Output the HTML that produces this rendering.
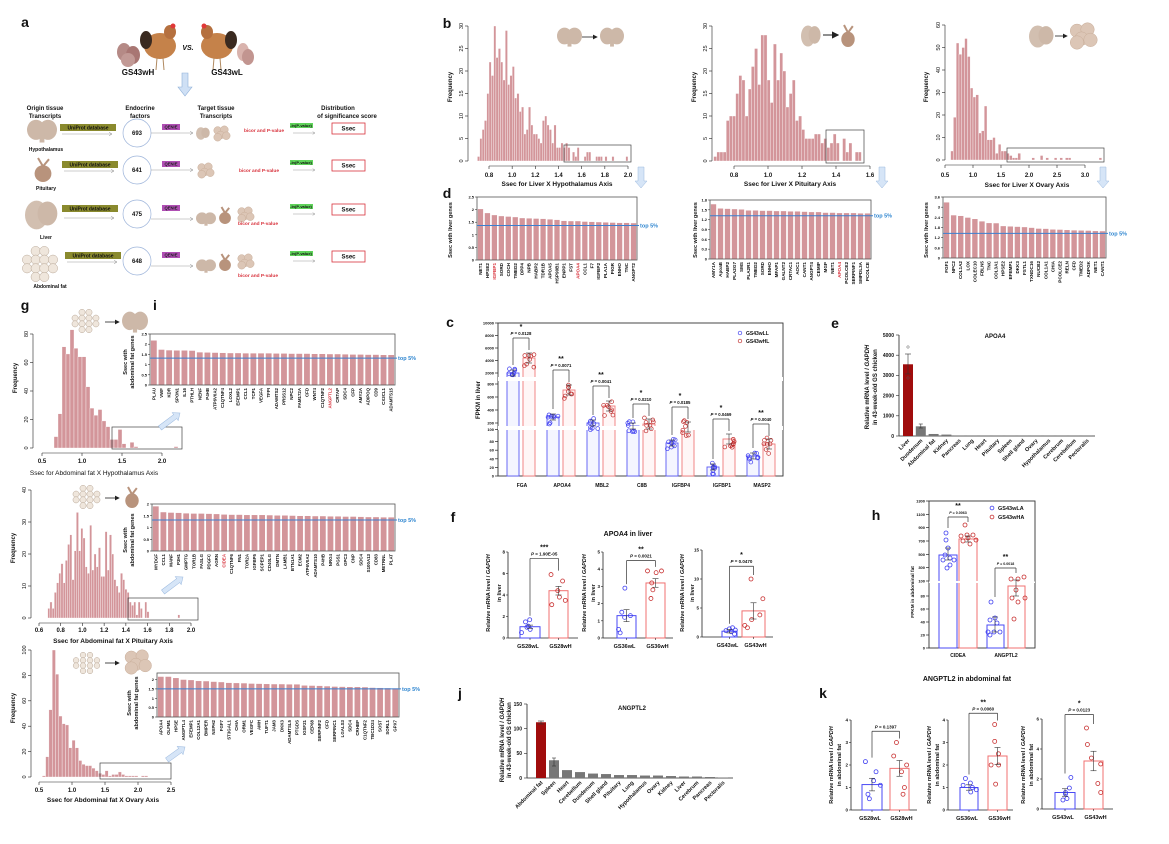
<!DOCTYPE html>
<html><head><meta charset="utf-8">
<style>
html,body{margin:0;padding:0;background:#fff;}
svg{display:block;font-family:"Liberation Sans",Arial,sans-serif;}
</style></head>
<body>
<svg id="s" width="1169" height="844" viewBox="0 0 1169 844" xmlns="http://www.w3.org/2000/svg">
<defs>
<marker id="ah" markerWidth="6" markerHeight="6" refX="5" refY="3" orient="auto"><path d="M0,0 L5,3 L0,6" fill="none" stroke="#888" stroke-width="0.8"/></marker>
<marker id="ahk" markerWidth="6" markerHeight="6" refX="5" refY="3" orient="auto"><path d="M0,0 L6,3 L0,6 z" fill="#222"/></marker>
</defs>
<g id="g"></g>
</svg>
<script>
var G=document.getElementById('g'),out='';
function T(x,y,t,o){o=o||{};var a='';if(o.rot!==undefined)a+=' transform="rotate('+o.rot+' '+x+' '+y+')"';
out+='<text x="'+x+'" y="'+y+'" font-size="'+(o.s||5)+'" fill="'+(o.c||'#111')+'" text-anchor="'+(o.a||'middle')+'"'+(o.b?' font-weight="bold"':'')+(o.i?' font-style="italic"':'')+a+'>'+t+'</text>';}
function L(x1,y1,x2,y2,c,w,extra){out+='<line x1="'+x1+'" y1="'+y1+'" x2="'+x2+'" y2="'+y2+'" stroke="'+(c||'#222')+'" stroke-width="'+(w||0.7)+'" '+(extra||'')+'/>';}
function R(x,y,w,h,f,s,sw){out+='<rect x="'+x+'" y="'+y+'" width="'+w+'" height="'+h+'" fill="'+(f||'none')+'" stroke="'+(s||'none')+'" stroke-width="'+(sw||0.6)+'"/>';}
function C(x,y,r,f,s,sw){out+='<circle cx="'+x+'" cy="'+y+'" r="'+r+'" fill="'+(f||'none')+'" stroke="'+(s||'none')+'" stroke-width="'+(sw||0.6)+'"/>';}
function E(x,y,rx,ry,f){out+='<ellipse cx="'+x+'" cy="'+y+'" rx="'+rx+'" ry="'+ry+'" fill="'+f+'"/>';}
var PINK='#d3959a',BL='#3b7fd0';
var seed=7;function rnd(){seed=(seed*9301+49297)%233280;return seed/233280;}

function brain(x,y,w,h){E(x+w*0.3,y+h*0.45,w*0.3,h*0.42,'#cdb8a8');E(x+w*0.7,y+h*0.45,w*0.3,h*0.42,'#cdb8a8');R(x+w*0.42,y+h*0.6,w*0.16,h*0.38,'#cdb8a8');}
function liver(x,y,w,h){E(x+w*0.35,y+h*0.5,w*0.35,h*0.48,'#d2bfb0');E(x+w*0.68,y+h*0.45,w*0.3,h*0.4,'#cdb8a8');}
function pit(x,y,w,h){E(x+w*0.5,y+h*0.65,w*0.42,h*0.35,'#b8937c');L(x+w*0.5,y+h*0.35,x+w*0.25,y,'#b8937c',2);L(x+w*0.5,y+h*0.35,x+w*0.8,y+h*0.05,'#b8937c',2);}
function ovary(x,y,w,h){var p=[[.3,.3],[.65,.25],[.45,.6],[.75,.65],[.3,.75]];p.forEach(function(q){C(x+w*q[0],y+h*q[1],Math.min(w,h)*0.26,'#dcc6b6','#c9ae9a',0.5);});}
function fat(x,y,w,h){for(var r=0;r<4;r++)for(var c=0;c<4;c++){if((r==0||r==3)&&(c==0||c==3))continue;C(x+w*(0.14+c*0.24),y+h*(0.14+r*0.24),Math.min(w,h)*0.13,'#efe6dc','#b9a898',0.5);}}
function chicken(x,y,flip){var s=flip?-1:1;E(x,y+8,16,13,'#c5824a');E(x+s*10,y-6,6,7,'#b5703f');C(x+s*13,y-12,2.5,'#e03838');E(x-s*14,y+2,6,9,'#3a2a20');L(x-3,y+20,x-4,y+32,'#b08a60',1);L(x+3,y+20,x+4,y+32,'#b08a60',1);}

T(25,27,'a',{s:14,b:1,a:'middle'});
E(124,52,7,9,'#b58a86');E(133,55,7,9,'#a87673');E(128,60,7,7,'#c29a96');
chicken(160,38,false);chicken(217,38,true);
T(188,50,'VS.',{s:7,b:1,i:1});
E(243,52,6,9,'#d9b3ad');E(248,57,6,8,'#c29590');
T(138,75,'GS43wH',{s:8,b:1});T(227,75,'GS43wL',{s:8,b:1});
out+='<path d="M182,73 h6 v14 h4 l-7,9 l-7,-9 h4z" fill="#cfe0f5" stroke="#8fb0d8" stroke-width="0.6"/>';
T(45,110,'Origin tissue',{s:6,b:1});T(45,118,'Transcripts',{s:6,b:1});
T(140,110,'Endocrine',{s:6,b:1});T(140,118,'factors',{s:6,b:1});
T(216,110,'Target tissue',{s:6,b:1});T(216,118,'Transcripts',{s:6,b:1});
T(338,110,'Distribution',{s:6,b:1});T(347,118,'of significance score',{s:6,b:1});
var rows=[{y:133,n:'693',lab:'Hypothalamus',ly:151,ub:60,bic:[264,132],t:['l','f']},
{y:170,n:'641',lab:'Pituitary',ly:190,ub:62,bic:[259,172],t:['f']},
{y:214,n:'475',lab:'Liver',ly:239,ub:62,bic:[258,225],t:['b','p','f']},
{y:261,n:'648',lab:'Abdominal fat',ly:288,ub:65,bic:[258,277],t:['b','p','f']}];
brain(27,119,30,24);pit(33,158,20,24);liver(25,200,33,30);fat(22,246,36,36);
rows.forEach(function(r,i){
 T(i==3?50:46,r.ly,r.lab,{s:5,b:1});
 R(r.ub,r.y-9,56,7,'#8a8a2e');T(r.ub+28,r.y-3.7,'UniProt database',{s:5,b:1,c:'#111'});
 L(r.ub+2,r.y+(i==2?4:1),r.ub+52,r.y+(i==2?4:1),'#999',0.6,'marker-end="url(#ah)"');
 C(137,r.y,14,'#fff','#9db4da',0.7);T(137,r.y+2,r.n,{s:6,b:1});
 R(162,r.y-9,18,6,'#b04fb4');T(171,r.y-4.5,'QENIE',{s:4.2,b:1,c:'#222'});
 L(151,r.y+(i>=2?5:0),193,r.y+(i>=2?5:0),'#999',0.6,'marker-end="url(#ah)"');
 var xx=196;r.t.forEach(function(k){if(k=='l'){liver(xx,r.y-6,14,13);xx+=16;}if(k=='b'){brain(xx,r.y-2,20,14);xx+=22;}if(k=='p'){pit(xx,r.y-7,14,17);xx+=18;}if(k=='f'){ovary(xx,r.y-7,19,15);xx+=21;}});
 T(r.bic[0],r.bic[1],'bicor  and  P-value',{s:4.8,b:1,c:'#d8323c'});
 R(290,r.y-10,23,5,'#5fd35a');T(301,r.y-6.2,'-ln(P-value)',{s:4,b:1});
 L(293,r.y,315,r.y,'#999',0.5,'marker-end="url(#ah)"');
 R(332,r.y-10,33,11,'#fff','#d8323c',0.8);T(348.5,r.y-2.3,'Ssec',{s:6,b:1});
});

function hist(o){
 var X=function(v){return o.p0+(v-o.v0)/(o.v1-o.v0)*(o.p1-o.p0);};
 var Y=function(v){return o.y0-v/o.ymax*(o.y0-o.yt);};
 o.data.forEach(function(d,i){if(!d)return;var v=o.start+i*o.step,x=X(v),w=X(v+o.step)-x;R(x,Y(d),w,o.y0-Y(d),PINK,'#fff',0.35);});
 L(o.ax,o.y0,o.ax,o.yt,'#222',0.6);
 o.yt_.forEach(function(t){var y=Y(t);L(o.ax-3,y,o.ax,y,'#222',0.6);T(o.ax-5,y,t,{s:5.5,rot:-90});});
 var xa=o.y0+5;L(X(o.xt[0]),xa,X(o.xt[o.xt.length-1]),xa,'#222',0.6);
 o.xt.forEach(function(t){L(X(t),xa,X(t),xa+3,'#222',0.6);T(X(t),o.ty,t.toFixed(1),{s:6,b:1});});
 T(o.lx,o.ly,o.xl,{s:6.5,b:o.lb!==0});
 T(o.fx,o.fy,'Frequency',{s:6,b:1,rot:-90});
 if(o.box)R(o.box[0],o.box[1],o.box[2]-o.box[0],o.box[3]-o.box[1],'none','#444',0.7);
}
function bars(o){
 var n=o.vals.length,bw=(o.x2-o.x1)/n,Y=function(v){return o.y2-v/o.ymax*(o.y2-o.y1);};
 o.vals.forEach(function(v,i){R(o.x1+i*bw+bw*0.12,Y(v),bw*0.76,o.y2-Y(v),PINK);
  T(o.x1+i*bw+bw*0.5+1.5,o.ly,o.labs[i],{s:o.fs||4.6,a:'end',rot:-90,b:1,c:(o.red.indexOf(i)>=0?'#d8323c':'#111')});});
 R(o.x1,o.y1,o.x2-o.x1,o.y2-o.y1,'none','#555',0.8);
 o.yt.forEach(function(t){var y=Y(t);L(o.x1-2,y,o.x1,y,'#222',0.5);T(o.x1-3,y+1.5,t,{s:4,a:'end',b:1});});
 var ly=Y(o.line);L(o.x1,ly,o.x2+2,ly,BL,1);
 T(o.x2+3,ly+2,'top 5%',{s:5.5,b:1,c:'#2f86d0',a:'start'});
 o.ylab.forEach(function(t,k){T(o.ylx[k],o.yly,t,{s:5.5,b:1,rot:-90});});
}
function downArrow(x,y1,y2){out+='<path d="M'+(x-3)+','+y1+' h6 v'+(y2-y1-7)+' h3 l-6,7 l-6,-7 h3z" fill="#d6e5f7" stroke="#9ab8de" stroke-width="0.5"/>';}
function diagArrow(x1,y1,x2,y2){var a=Math.atan2(y2-y1,x2-x1)*180/Math.PI,l=Math.hypot(x2-x1,y2-y1);
 out+='<g transform="translate('+x1+' '+y1+') rotate('+a+')"><path d="M0,-2.5 H'+(l-6)+' V-5 L'+l+',0 L'+(l-6)+',5 V2.5 H0z" fill="#d6e5f7" stroke="#9ab8de" stroke-width="0.5"/></g>';}

T(447,28,'b',{s:14,b:1});
hist({p0:489,p1:628,v0:0.8,v1:2.0,y0:161,yt:26,ymax:30,ax:468,yt_:[0,5,10,15,20,25,30],xt:[0.8,1.0,1.2,1.4,1.6,1.8,2.0],ty:177,
data:[1,5,7,9,15,22,19,30,23,25,22,18,29,17,19,21,14,15,11,12,6,7,12,8,6,6,5,4,9,10,8,7,4,8,3,3,4,3,4,3,0,2,1,3,0,0,1,2,2,0,0,1,1,1,0,1,0,0,1,0,0,0,0,0,1],
start:0.70,step:0.02,xl:'Ssec for Liver X Hypothalamus Axis',lx:557,ly:186,fx:452,fy:87,box:[564,145,631,162]});
brain(557,27,25,20);L(582,37,597,37,'#222',0.8,'marker-end="url(#ahk)"');brain(600,27,24,20);
downArrow(641,167,188);
hist({p0:734,p1:870,v0:0.8,v1:1.6,y0:161,yt:26,ymax:30,ax:712,yt_:[0,5,10,15,20,25,30],xt:[0.8,1.0,1.2,1.4,1.6],ty:177,
data:[1,2,2,2,9,10,10,15,19,18,10,16,21,25,17,28,28,18,13,26,18,24,20,12,15,18,9,10,7,5,5,5,6,6,4,5,3,4,6,4,0,5,2,4,0,2,2],
start:0.68,step:0.0185,xl:'Ssec for Liver X Pituitary Axis',lx:790,ly:186,fx:696,fy:87,box:[826,130,864,163]});
liver(801,25,20,22);L(823,35,838,35,'#444',1.2,'marker-end="url(#ahk)"');pit(840,25,16,22);
downArrow(882,167,188);
hist({p0:945,p1:1085,v0:0.5,v1:3.0,y0:160,yt:25,ymax:60,ax:945,yt_:[0,10,20,30,40,50,60],xt:[0.5,1.0,1.5,2.0,2.5,3.0],ty:177,
data:[4,19,52,47,50,54,46,32,28,29,12,13,24,9,9,10,3,7,4,4,3,2,1,1,3,0,0,0,0,1,0,0,2,0,1,0,0,1,0,1,0,1,1,0,0,0,0,0,0,0,0,0,0,1],
start:0.6,step:0.05,xl:'Ssec for Liver X Ovary Axis',lx:1027,ly:187,fx:928,fy:87,box:[1007,148,1104,162]});
liver(1029,25,25,23);L(1055,36,1067,36,'#222',0.8,'marker-end="url(#ahk)"');ovary(1068,23,30,26);
downArrow(1103,167,188);

T(447,198,'d',{s:14,b:1});
bars({x1:477,x2:637,y1:197,y2:260,ymax:2.5,yt:[0,0.5,1,1.5,2,2.5],line:1.37,ly:263,red:[2,14],
vals:[2.02,1.86,1.78,1.74,1.72,1.7,1.66,1.65,1.64,1.63,1.61,1.59,1.55,1.54,1.54,1.52,1.51,1.5,1.49,1.48,1.47,1.47,1.46],
labs:['NET1','HPSE2','IGFBP1','SORD','COCH','TMED2','DPP4','NPB','HABP2','TDR1B','APOA5','HSP90B1','ENPP1','FST','APOA4','CCL1','F7','IGFBP2','PLA1A','PIGR','ENHO','TNC','ANGPT2'],
ylab:['Ssec with liver genes'],ylx:[452],yly:230});
bars({x1:710,x2:871,y1:200,y2:259,ymax:1.8,yt:[0,0.3,0.6,0.9,1.2,1.5,1.8],line:1.32,ly:262,red:[18],
vals:[1.67,1.54,1.53,1.52,1.51,1.48,1.48,1.47,1.47,1.46,1.46,1.45,1.45,1.44,1.43,1.43,1.41,1.41,1.40,1.40,1.40,1.39,1.39],
labs:['AMY1A','ApoaB','HABP2','PLA2G7','SMS','PLA2R1','TMED2','SORD','ENHO','MFAP1','GALNT2','CRTAC1','AOC1','CANT1','ANGPT4','CEMIP','MGP','NET1','APOA4','PCOLCE2','SERPINF1','SMPDL3A','PCOLCE'],
ylab:['Ssec with liver genes'],ylx:[697],yly:230});
bars({x1:943,x2:1106,y1:197,y2:258,ymax:3.6,yt:[0,0.6,1.2,1.8,2.4,3,3.6],line:1.45,ly:261,red:[],
vals:[3.28,2.52,2.48,2.38,2.3,2.16,2.06,2.05,1.88,1.86,1.84,1.82,1.78,1.73,1.72,1.68,1.67,1.65,1.63,1.62,1.61,1.59,1.58],
labs:['FGF1','NPC2','COL1A2','LOX','COLEC10','FBLN5','TNC','COL3A1','HPSE2','EFEMP1','DKK3','FSTL1','TXNDC16','NUCB2','COL1A1','CHIA','PCOLCE2','RELN','CFD','TMED2','ADPGK','NET1','CANT1'],
ylab:['Ssec with liver genes'],ylx:[928],yly:230});

T(25,310,'g',{s:14,b:1});T(155,310,'i',{s:14,b:1});
hist({p0:42,p1:162,v0:0.5,v1:2.0,y0:448,yt:334,ymax:80,ax:33,yt_:[0,20,40,60,80],xt:[0.5,1.0,1.5,2.0],ty:463,
data:[8,24,71,66,83,70,64,64,43,28,23,27,19,15,6,6,13,3,0,4,1,0,0,0,0,0,0,0,0,0,1],
start:0.65,step:0.05,xl:'Ssec for Abdominal fat X Hypothalamus Axis',lx:94,ly:475,lb:0,fx:17,fy:378,box:[112,427,182,449]});
fat(71,309,29,24);L(105,322,119,322,'#222',0.8,'marker-end="url(#ahk)"');brain(122,311,26,22);
diagArrow(160,428,180,413);
bars({x1:150,x2:395,y1:334,y2:385,ymax:2.5,yt:[0,0.5,1,1.5,2,2.5],line:1.32,ly:388,red:[23],fs:4.4,
vals:[2.18,1.73,1.7,1.69,1.69,1.68,1.6,1.59,1.58,1.57,1.56,1.56,1.55,1.55,1.55,1.55,1.54,1.54,1.53,1.53,1.53,1.52,1.52,1.51,1.51,1.5,1.49,1.49,1.48,1.48,1.47,1.47],
labs:['PLAU','VWF','KDR','SPON1','IL16','PTHLH','NENF','P4HB','ATP6V0A2','C1QTNF4','LOXL2','EFEMP1','CCL1','TCP1','VEGFA','TFPI','ADAMTS2','PRSS12','NPC2','FAM172A','CFD','WNT4','C1QTNF2','ANGPTL2','CRTAP','SDC4','CFP','AMY2A','ADIPOQ','CD9','CX3CL1','ADAMTS15'],
ylab:['Ssec with','abdominal fat genes'],ylx:[127,134],yly:362});
hist({p0:39,p1:191,v0:0.6,v1:2.0,y0:618,yt:490,ymax:40,ax:31,yt_:[0,10,20,30,40],xt:[0.6,0.8,1.0,1.2,1.4,1.6,1.8,2.0],ty:632,
data:[3,5,3,8,11,14,17,11,18,23,26,12,21,33,21,28,25,16,14,29,15,20,16,22,13,13,27,15,26,20,12,10,8,14,12,9,8,5,4,5,1,5,3,0,5,2,0,0,0,0,0,0,0,0,0,0,0,0,0,1],
start:0.68,step:0.0203,xl:'Ssec for Abdominal fat X Pituitary Axis',lx:113,ly:643,fx:15,fy:548,box:[128,598,198,620]});
fat(72,485,29,24);L(105,498,119,498,'#222',0.8,'marker-end="url(#ahk)"');pit(124,487,16,21);
diagArrow(163,592,183,577);
bars({x1:152,x2:395,y1:504,y2:551,ymax:2,yt:[0,0.5,1,1.5,2],line:1.32,ly:554,red:[9],fs:4.4,
vals:[1.9,1.65,1.63,1.62,1.6,1.59,1.59,1.58,1.57,1.55,1.54,1.54,1.53,1.53,1.53,1.52,1.51,1.51,1.5,1.49,1.49,1.48,1.48,1.47,1.47,1.46,1.46,1.45,1.44,1.44,1.43,1.43],
labs:['MYDGF','CCL1','MANF','P3H1','GMPTG','TOR1B','FASLG','PDGFC','AGRN','CIDEA','C1QTNF6','FN1','TOR2A','IGFBP5','SCPEP1','CD40LG','DMTN','LAMB1','BTN1A1','ECM2','ATP6V0A2','ADAMTS10','P4HB','NRG4','PGS1','GPC3','CNP','SDC4','S100A13','CD83','METRNL','PLAT'],
ylab:['Ssec with','abdominal fat genes'],ylx:[127,134],yly:540});
hist({p0:39,p1:171,v0:0.5,v1:2.5,y0:777,yt:650,ymax:100,ax:31,yt_:[0,20,40,60,80,100],xt:[0.5,1.0,1.5,2.0,2.5],ty:792,
data:[0,1,16,53,100,81,48,42,41,23,29,23,13,10,9,9,7,5,3,2,5,1,2,2,4,2,1,1,1,1,0,1,1],
start:0.5,step:0.05,xl:'Ssec for Abdominal fat X Ovary Axis',lx:103,ly:802,fx:15,fy:708,box:[100,763,171,779]});
fat(72,652,29,22);L(105,663,119,663,'#222',0.8,'marker-end="url(#ahk)"');ovary(122,650,31,24);
diagArrow(167,760,185,747);
bars({x1:157,x2:399,y1:673,y2:717,ymax:2.35,yt:[0,0.5,1,1.5,2],line:1.5,ly:720,red:[],fs:4.4,
vals:[2.15,2.15,2.08,1.99,1.97,1.92,1.91,1.88,1.86,1.82,1.81,1.8,1.78,1.77,1.76,1.75,1.75,1.74,1.74,1.68,1.67,1.66,1.64,1.62,1.61,1.6,1.6,1.59,1.56,1.55,1.54,1.53],
labs:['APOA4','OLFM1','HPSE','ANGPTL4','EFEMP1','COL12A1','BMPER','NXPH2','FGF7','ST3GAL1','CHIA','ORM1','VEGFC','AMH','TUFT1','JAM3','DKK3','ADAMTSL5','PTGDS','IGSF21','CEP68','SERPINF2','CFD','SERPINC1','LGALS3','SDC4','CRHBP','C1QTNF2','TBC1D24','SOST','SORL1','GPX7'],
ylab:['Ssec with','abdominal fat genes'],ylx:[131,138],yly:703});

var BLUE='#3d3df0';
function errbar(cx,yt,yb,w){L(cx,yt,cx,yb,'#333',0.6);L(cx-w,yt,cx+w,yt,'#333',0.6);L(cx-w,yb,cx+w,yb,'#333',0.6);}
function bracket(x1,x2,ytop,yl,yr,p,star,ps){L(x1,yl,x1,ytop,'#333',0.7);L(x1,ytop,x2,ytop,'#333',0.7);L(x2,ytop,x2,yr,'#333',0.7);
 if(p)T((x1+x2)/2,ytop-3,'<tspan font-style="italic">P</tspan> = '+p,{s:ps||4.5,b:1});if(star)T((x1+x2)/2,ytop-(p?9:3),star,{s:7,b:1});}

T(450,327,'c',{s:14,b:1});
function cY(v){if(v>=2000)return 373-(v-2000)/8000*50;if(v>=100&&v<1000)return 423-(v-200)/600*39;return 476-v/100*43;}
R(498,323,285,153,'none','#333',0.9);
[[10000,'10000'],[8000,'8000'],[6000,'6000'],[4000,'4000'],[2000,'2000']].forEach(function(t){var y=cY(t[0]);L(495,y,498,y);T(494,y+1.5,t[1],{s:4,a:'end',b:1});});
[[800,'800'],[600,'600'],[400,'400'],[200,'200']].forEach(function(t){var y=cY(t[0]);L(495,y,498,y);T(494,y+1.5,t[1],{s:4,a:'end',b:1});});
[[100,'100'],[80,'80'],[60,'60'],[40,'40'],[20,'20'],[0,'0']].forEach(function(t){var y=cY(t[0]);L(495,y,498,y);T(494,y+1.5,t[1],{s:4,a:'end',b:1});});
R(498,377,285,4,'#fff');R(498,426,285,4,'#fff');
T(480,400,'FPKM in liver',{s:6,b:1,rot:-90});
var cg=[['FGA',522,373,358],['APOA4',562,417,390],['MBL2',602,423,406],['C8B',642,426,424],['IGFBP4',681,443,427],['IGFBP1',722,467,439],['MASP2',762,456,444]];
var cst=[['*','0.0128'],['**','0.0071'],['**','0.0041'],['*','0.0210'],['*','0.0185'],['*','0.0469'],['**','0.0040']];
cg.forEach(function(g,i){var bx=g[1]-15,rx=g[1]+1;
 R(bx,g[2],12,476-g[2],'#f4f5ff','#5a5af5',0.9);R(rx,g[3],12,476-g[3],'#fff6f6','#f07a7a',0.9);
 R(bx-1,377,15,4,'#fff');R(bx-1,426,15,4,'#fff');R(rx-1,377,15,4,'#fff');R(rx-1,426,15,4,'#fff');
 for(var k=0;k<8;k++){C(bx+6+(rnd()-0.5)*11,g[2]+(rnd()-0.4)*12,1.9,'none',BLUE,0.7);C(rx+6+(rnd()-0.5)*11,g[3]+(rnd()-0.4)*16,1.9,'none','#c03030',0.7);}
 errbar(rx+6,g[3]-5,g[3]+5,3);errbar(bx+6,g[2]-3,g[2]+3,3);
 var top=Math.min(g[2],g[3])-20;
 bracket(bx+6,rx+6,top,g[2]-8,g[3]-8,cst[i][1],cst[i][0],4.3);
 T(g[1],487,g[0],{s:5,b:1});});
C(740,333,1.8,'none',BLUE,0.7);T(746,335,'GS43wLL',{s:5,b:1,a:'start'});
C(740,341,1.8,'none','#c03030',0.7);T(746,343,'GS43wHL',{s:5,b:1,a:'start'});

T(835,328,'e',{s:14,b:1});
L(899,335,899,436,'#222',0.8);L(899,436,1095,436,'#222',0.8);
[0,1000,2000,3000,4000,5000].forEach(function(v){var y=436-v/5000*101;L(896,y,899,y,'#222',0.6);T(894,y+1.8,v,{s:5,a:'end',b:1});});
T(995,338,'APOA4',{s:6,b:1});
T(869,387,'Relative mRNA level / <tspan font-style="italic">GAPDH</tspan>',{s:6,b:1,rot:-90});
T(877,387,'in 43-week-old GS chicken',{s:6,b:1,rot:-90});
var en=['Liver','Duodenum','Abdominal fat','Kidney','Pancreas','Lung','Heart','Pituitary','Spleen','Shell gland','Ovary','Hypothalamus','Cerebrum','Cerebellum','Pectoralis'],ev=[3550,480,100,70,8,6,5,5,5,5,5,5,5,5,5];
en.forEach(function(n,i){var x=908+i*12.8,h=ev[i]/5000*101;R(x-5,436-h,10,h,i==0?'#a00c0c':'#777');if(i==0){errbar(x,354,374,3);C(x,347,1.2,'none','#555',0.5);C(x,378,1.2,'none','#555',0.5);}if(i==1){errbar(x,424,428,2);}
 T(x+2,441,n,{s:5.5,b:1,a:'end',rot:-45});});

T(453,522,'f',{s:14,b:1});
T(628,536,'APOA4 in liver',{s:7,b:1});
function small(o){var Y=function(v){return o.y0-v/o.ymax*(o.y0-o.yt);};
 L(o.ax,o.yt,o.ax,o.y0,'#222',0.8);L(o.ax,o.y0,o.xe,o.y0,'#222',0.8);
 o.ticks.forEach(function(t){var y=Y(t);L(o.ax-2,y,o.ax,y,'#222',0.6);T(o.ax-3,y+1.5,t,{s:4.5,a:'end',b:1});});
 R(o.b[0],Y(o.b[1]),o.b[2]-o.b[0],o.y0-Y(o.b[1]),'none','#4a4af5',1);
 R(o.r[0],Y(o.r[1]),o.r[2]-o.r[0],o.y0-Y(o.r[1]),'none','#f07070',1);
 var bc=(o.b[0]+o.b[2])/2,rc=(o.r[0]+o.r[2])/2;
 o.bd.forEach(function(v){C(bc+(rnd()-0.5)*(o.b[2]-o.b[0]-2),Y(v),2,'none',BLUE,0.8);});
 o.rd.forEach(function(v){C(rc+(rnd()-0.5)*(o.r[2]-o.r[0]-2),Y(v),2,'none','#c83030',0.8);});
 errbar(bc,Y(o.b[1]+o.be),Y(o.b[1]-o.be),3);errbar(rc,Y(o.r[1]+o.re),Y(o.r[1]-o.re),3);
 var top=Y(o.bt);bracket(bc,rc,top,Y(Math.max.apply(null,o.bd))-4,Y(Math.max.apply(null,o.rd))-4,o.p,o.star,4.5);
 L(bc,o.y0,bc,o.y0+2,'#222',0.6);L(rc,o.y0,rc,o.y0+2,'#222',0.6);
 T(bc-2,o.y0+10,o.xl[0],{s:5.5,b:1});T(rc+2,o.y0+10,o.xl[1],{s:5.5,b:1});
 T(o.ylx[0],o.yly,'Relative mRNA level / <tspan font-style="italic">GAPDH</tspan>',{s:5.5,b:1,rot:-90});
 T(o.ylx[1],o.yly,o.yl2,{s:5.5,b:1,rot:-90});}
small({ax:508,xe:578,yt:552,y0:638,ymax:8,ticks:[0,2,4,6,8],b:[520,1.05,540],r:[549,4.4,568],be:0.15,re:0.4,bd:[1.7,1.5,1.1,0.8,1.0,0.5],rd:[5.9,5.3,4.4,3.8,3.5,3.1],bt:7.4,p:'1.90E-05',star:'***',xl:['GS28wL','GS28wH'],ylx:[490,501],yly:593,yl2:'in liver'});
small({ax:603,xe:673,yt:552,y0:638,ymax:5,ticks:[0,1,2,3,4,5],b:[617,1.3,636],r:[646,3.2,665],be:0.35,re:0.25,bd:[2.9,1.5,1.2,0.5,0.3,1.3],rd:[3.9,3.9,3.8,3.2,2.8,2.3],bt:4.5,p:'0.0021',star:'**',xl:['GS36wL','GS36wH'],ylx:[586,595],yly:593,yl2:'in liver'});
small({ax:702,xe:773,yt:550,y0:637,ymax:15,ticks:[0,5,10,15],b:[722,1.0,737],r:[742,4.5,765],be:0.3,re:1.4,bd:[1.6,1.4,1.1,0.9,0.5,1.2],rd:[10,6.6,3.8,3.0,2.0,1.6],bt:12.2,p:'0.0470',star:'*',xl:['GS43wL','GS43wH'],ylx:[684,694],yly:593,yl2:'in liver'});

T(876,520,'h',{s:14,b:1});
function hY(v,up){if(up)return 581-(v-100)/1200*80;return 648-v/100*65;}
R(929,501,106,147,'none','#333',0.9);
[1300,1100,900,700,500,300,100].forEach(function(v){var y=hY(v,1);L(926,y,929,y);T(925,y+1.5,v,{s:4,a:'end',b:1});});
[80,60,40,20,0].forEach(function(v){var y=hY(v,0);L(926,y,929,y);T(925,y+1.5,v,{s:4,a:'end',b:1});});
R(929,581.5,106,1.5,'#fff');
T(914,592,'FPKM in abdominal fat',{s:4.8,b:1,rot:-90});
R(939,555,18,93,'none','#4a4af5',1);R(959,539,18,109,'none','#f07070',1);
R(987,625,17,23,'none','#4a4af5',1);R(1008,586,17,62,'none','#f07070',1);
R(938,581,40,2,'#fff');
[[946,533],[946,540],[948,548],[945,555],[950,558],[943,560],[954,560],[950,565],[947,568]].forEach(function(p){C(p[0],p[1],2,'none',BLUE,0.8);});
[[965,525],[961,536],[967,535],[973,535],[968,538],[976,540],[963,541],[970,544]].forEach(function(p){C(p[0],p[1],2,'none','#c83030',0.8);});
[[991,602],[995,618],[990,620],[997,623],[988,632],[994,632],[1000,632],[990,635]].forEach(function(p){C(p[0],p[1],2,'none',BLUE,0.8);});
[[1011,579],[1018,579],[1024,577],[1016,590],[1012,598],[1018,602],[1025,598],[1014,619]].forEach(function(p){C(p[0],p[1],2,'none','#c83030',0.8);});
errbar(948,548,560,3);errbar(968,536,542,3);errbar(995,617,632,3);errbar(1016,580,596,3);
bracket(948,968,517,528,522,'0.0063','**',3.6);bracket(995,1016,568,597,573,'0.0018','**',3.6);
C(992,508,1.9,'none',BLUE,0.8);T(998,510,'GS43wLA',{s:5.5,b:1,a:'start'});
C(992,517,1.9,'none','#c83030',0.8);T(998,519,'GS43wHA',{s:5.5,b:1,a:'start'});
T(958,657,'CIDEA',{s:5,b:1});T(1006,657,'ANGPTL2',{s:5,b:1});

T(460,698,'j',{s:14,b:1});
L(527,704,527,778,'#222',0.8);L(527,778,733,778,'#222',0.8);
[0,50,100,150].forEach(function(v){var y=778-v/150*74;L(524,y,527,y,'#222',0.6);T(522,y+1.8,v,{s:5,a:'end',b:1});});
T(632,710,'ANGPTL2',{s:6,b:1});
T(504,740,'Relative mRNA level / <tspan font-style="italic">GAPDH</tspan>',{s:6,b:1,rot:-90});
T(511,740,'in 43-week-old GS chicken',{s:6,b:1,rot:-90});
var jn=['Abdominal fat','Spleen','Heart','Cerebellum','Duodenum','Shell gland','Pituitary','Lung','Hypothalamus','Ovary','Kidney','Liver','Cerebrum','Pancreas','Pectoralis'],jv=[113,36,16,12,9,8,6,6,5,5,4,3,3,2,1];
jn.forEach(function(n,i){var x=541+i*13,h=jv[i]/150*74;R(x-5,778-h,10,h,i==0?'#a00c0c':'#777');T(x+2,783,n,{s:5.5,b:1,a:'end',rot:-45});});
errbar(541,721,724,3);errbar(554,758,766,2);

T(823,698,'k',{s:14,b:1});
T(967,681,'ANGPTL2 in abdominal fat',{s:7,b:1});
small({ax:851,xe:917,yt:720,y0:810,ymax:4,ticks:[0,1,2,3,4],b:[862,1.13,882],r:[890,1.85,909],be:0.28,re:0.35,bd:[2.15,1.7,1.3,1.1,0.7,0.5],rd:[3.0,2.4,2.0,1.7,1.0,0.7],bt:3.5,p:'0.1397',star:'',xl:['GS28wL','GS28wH'],ylx:[833,841],yly:765,yl2:'in abdominal fat'});
small({ax:948,xe:1013,yt:720,y0:810,ymax:4,ticks:[0,1,2,3,4],b:[960,1.0,978],r:[988,2.4,1007],be:0.12,re:0.38,bd:[1.4,1.2,1.1,1.0,0.9,0.8],rd:[3.8,3.05,2.5,2.0,2.0,1.15],bt:4.3,p:'0.0060',star:'**',xl:['GS36wL','GS36wH'],ylx:[931,939],yly:765,yl2:'in abdominal fat'});
small({ax:1042,xe:1113,yt:719,y0:809,ymax:6,ticks:[0,2,4,6],b:[1055,1.1,1075],r:[1084,3.2,1103],be:0.25,re:0.65,bd:[2.1,1.4,1.1,1.0,0.7,0.6],rd:[5.4,4.3,3.4,3.0,1.7,1.1],bt:6.3,p:'0.0123',star:'*',xl:['GS43wL','GS43wH'],ylx:[1025,1033],yly:765,yl2:'in abdominal fat'});

G.innerHTML=out;
</script>
</body></html>
